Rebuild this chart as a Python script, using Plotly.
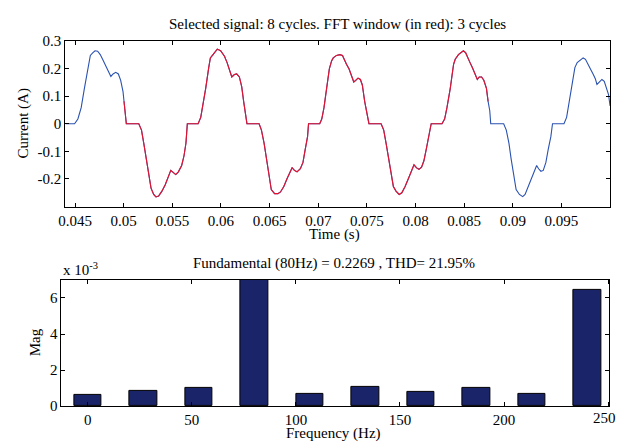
import numpy as np
import plotly.graph_objects as go

# ---- Data ----
time_ms = [
    44.03, 44.95, 45.29, 45.63, 45.96, 46.30, 46.47, 46.57, 46.81, 47.05, 47.32, 47.59, 47.83, 48.17,
    48.44, 48.68, 48.91, 49.18, 49.45, 49.69, 49.93, 50.03, 50.13, 50.27, 51.55, 51.83, 52.06, 52.33,
    52.57, 52.81, 53.08, 53.32, 53.59, 53.93, 54.27, 54.60, 54.84, 55.11, 55.35, 55.62, 55.96, 56.20,
    56.40, 56.54, 57.65, 57.92, 58.16, 58.43, 58.74, 58.91, 59.18, 59.62, 59.96, 60.36, 60.63, 60.87,
    61.11, 61.38, 61.62, 61.89, 62.13, 62.33, 62.53, 62.67, 63.92, 64.16, 64.43, 64.70, 64.94, 65.17,
    65.51, 65.85, 66.12, 66.46, 66.80, 67.07, 67.31, 67.55, 67.82, 68.16, 68.43, 68.66, 68.90, 69.00,
    70.15, 70.36, 70.59, 70.86, 71.14, 71.37, 71.54, 71.88, 72.22, 72.49, 72.66, 72.90, 73.17, 73.41,
    73.65, 73.85, 74.09, 74.33, 74.53, 74.77, 75.00, 75.21, 76.46, 76.73, 76.97, 77.24, 77.48, 77.72,
    77.99, 78.32, 78.59, 78.93, 79.27, 79.61, 79.84, 80.11, 80.35, 80.62, 80.86, 81.10, 81.37, 81.61,
    82.72, 82.99, 83.23, 83.57, 83.91, 84.08, 84.41, 84.69, 84.92, 85.16, 85.36, 85.60, 85.84, 86.11,
    86.35, 86.55, 86.79, 87.02, 87.29, 87.46, 87.63, 87.73, 89.06, 89.33, 89.60, 89.83, 90.07, 90.34,
    90.68, 91.02, 91.26, 91.53, 91.87, 92.21, 92.45, 92.65, 92.89, 93.13, 93.40, 93.64, 93.91, 94.08,
    95.26, 95.53, 95.77, 96.11, 96.38, 96.62, 96.89, 97.23, 97.47, 97.70, 97.98, 98.25, 98.48, 98.65,
    98.89, 99.16, 99.40, 99.60, 99.84, 100.0,
]
current_A = [
    0, 0, 0.017, 0.058, 0.128, 0.198, 0.238, 0.247, 0.256, 0.264, 0.262, 0.250, 0.233, 0.209,
    0.186, 0.171, 0.180, 0.186, 0.180, 0.157, 0.116, 0.081, 0.047, 0, 0, -0.023, -0.070, -0.128,
    -0.186, -0.233, -0.256, -0.265, -0.262, -0.244, -0.221, -0.192, -0.169, -0.177, -0.184, -0.174, -0.151, -0.116,
    -0.070, 0, 0, 0.023, 0.070, 0.128, 0.203, 0.238, 0.250, 0.270, 0.264, 0.244, 0.221, 0.198,
    0.169, 0.178, 0.180, 0.169, 0.134, 0.081, 0.029, 0, 0, -0.023, -0.070, -0.128, -0.186, -0.238,
    -0.253, -0.253, -0.247, -0.227, -0.198, -0.174, -0.159, -0.169, -0.174, -0.163, -0.140, -0.093, -0.047, 0,
    0, 0.017, 0.058, 0.128, 0.198, 0.227, 0.238, 0.247, 0.250, 0.247, 0.233, 0.215, 0.198, 0.174,
    0.151, 0.157, 0.165, 0.160, 0.140, 0.081, 0.035, 0, 0, -0.023, -0.070, -0.128, -0.186, -0.227,
    -0.244, -0.256, -0.250, -0.227, -0.198, -0.169, -0.149, -0.160, -0.165, -0.157, -0.134, -0.093, -0.047, 0,
    0, 0.017, 0.058, 0.128, 0.215, 0.233, 0.250, 0.259, 0.264, 0.256, 0.238, 0.221, 0.203, 0.180,
    0.160, 0.169, 0.169, 0.157, 0.128, 0.081, 0.047, 0, 0, -0.023, -0.070, -0.128, -0.186, -0.238,
    -0.256, -0.264, -0.256, -0.233, -0.203, -0.174, -0.151, -0.163, -0.172, -0.169, -0.140, -0.093, -0.047, 0,
    0, 0.023, 0.070, 0.140, 0.203, 0.221, 0.230, 0.238, 0.233, 0.215, 0.198, 0.180, 0.163, 0.142,
    0.151, 0.160, 0.153, 0.128, 0.105, 0.064,
]
fft_window_ms = [50.03, 87.46]

freq_Hz = [0, 26.67, 53.33, 80, 106.67, 133.33, 160, 186.67, 213.33, 240]
mag_A = [0.00065, 0.00083, 0.00104, 0.2269, 0.00069, 0.00108, 0.00078, 0.00099, 0.00069, 0.00643]

time_ticks = [0.045, 0.05, 0.055, 0.06, 0.065, 0.07, 0.075, 0.08, 0.085, 0.09, 0.095]
time_tick_labels = ["0.045", "0.05", "0.055", "0.06", "0.065", "0.07", "0.075", "0.08", "0.085", "0.09", "0.095"]
cur_ticks = [-0.2, -0.1, 0, 0.1, 0.2, 0.3]
cur_tick_labels = ["-0.2", "-0.1", "0", "0.1", "0.2", "0.3"]
freq_ticks = [0, 50, 100, 150, 200, 250]
freq_tick_labels = ["0", "50", "100", "150", "200", "250"]
mag_ticks = [0, 2, 4, 6]

title_top = "Selected signal: 8 cycles. FFT window (in red): 3 cycles"
title_bot = "Fundamental (80Hz) = 0.2269 , THD= 21.95%"

# ---- Build ----
t = np.array(time_ms) / 1000.0
i = np.array(current_A)
win = (np.array(time_ms) >= fft_window_ms[0]) & (np.array(time_ms) <= fft_window_ms[1])

W, H = 618, 447
FONT = "Liberation Serif"
FS = 15

fig = go.Figure()
fig.add_trace(go.Scatter(x=t, y=i, mode="lines", line=dict(color="#2a52b0", width=1.1),
                         xaxis="x", yaxis="y", showlegend=False, hoverinfo="skip"))
fig.add_trace(go.Scatter(x=t[win], y=i[win], mode="lines", line=dict(color="#e8112d", width=1.1),
                         xaxis="x", yaxis="y", showlegend=False, hoverinfo="skip"))
fig.add_trace(go.Bar(x=freq_Hz, y=np.array(mag_A) * 1000, width=13.33,
                     marker=dict(color="#1a2468", line=dict(color="black", width=1)),
                     xaxis="x2", yaxis="y2", showlegend=False, hoverinfo="skip"))

def px_x(p):
    return p / W

def px_y(p):
    return 1 - p / H

axis_common = dict(showgrid=False, zeroline=False, showline=True, linecolor="black", linewidth=1,
                   mirror="ticks", ticks="inside", ticklen=4, tickcolor="black", tickwidth=1,
                   tickfont=dict(family=FONT, size=FS, color="black"))

# last frequency label sits at the very edge of the page; it is drawn as an annotation
freq_axis_labels = freq_tick_labels[:-1] + [""]

fig.update_layout(
    width=W, height=H, margin=dict(l=0, r=0, t=0, b=0),
    paper_bgcolor="white", plot_bgcolor="white",
    font=dict(family=FONT, size=FS, color="black"),
    xaxis=dict(domain=[px_x(59), px_x(610)], range=[0.044, 0.1], anchor="y",
               tickvals=time_ticks, ticktext=time_tick_labels, **axis_common),
    yaxis=dict(domain=[px_y(206), px_y(34)], range=[-0.3, 0.3], anchor="x",
               tickvals=cur_ticks, ticktext=cur_tick_labels, **axis_common),
    xaxis2=dict(domain=[px_x(55), px_x(609)], range=[-12.7, 250.5], anchor="y2",
                tickvals=freq_ticks, ticktext=freq_axis_labels, **axis_common),
    yaxis2=dict(domain=[px_y(413), px_y(282)], range=[0, 7], anchor="x2",
                tickvals=mag_ticks, ticktext=[str(v) for v in mag_ticks], **axis_common),
    bargap=0,
)

ann = [
    dict(text=title_top, x=px_x(334), y=px_y(17)),
    dict(text="Time (s)", x=px_x(331), y=px_y(235)),
    dict(text="Current (A)", x=px_x(17), y=px_y(120), textangle=-90),
    dict(text=title_bot, x=px_x(331), y=px_y(265)),
    dict(text="Mag", x=px_x(28), y=px_y(347), textangle=-90),
    dict(text="Frequency (Hz)", x=px_x(330), y=px_y(441)),
    dict(text="x 10<sup>-3</sup>", x=px_x(55), y=px_y(271), xanchor="left"),
    dict(text=freq_tick_labels[-1], x=1.0, y=px_y(415), xanchor="right", yanchor="top"),
]
for a in ann:
    base = dict(xref="paper", yref="paper", showarrow=False, xanchor="center", yanchor="middle",
                font=dict(family=FONT, size=FS, color="black"))
    base.update(a)
    fig.add_annotation(**base)

fig.write_html("out.html")
